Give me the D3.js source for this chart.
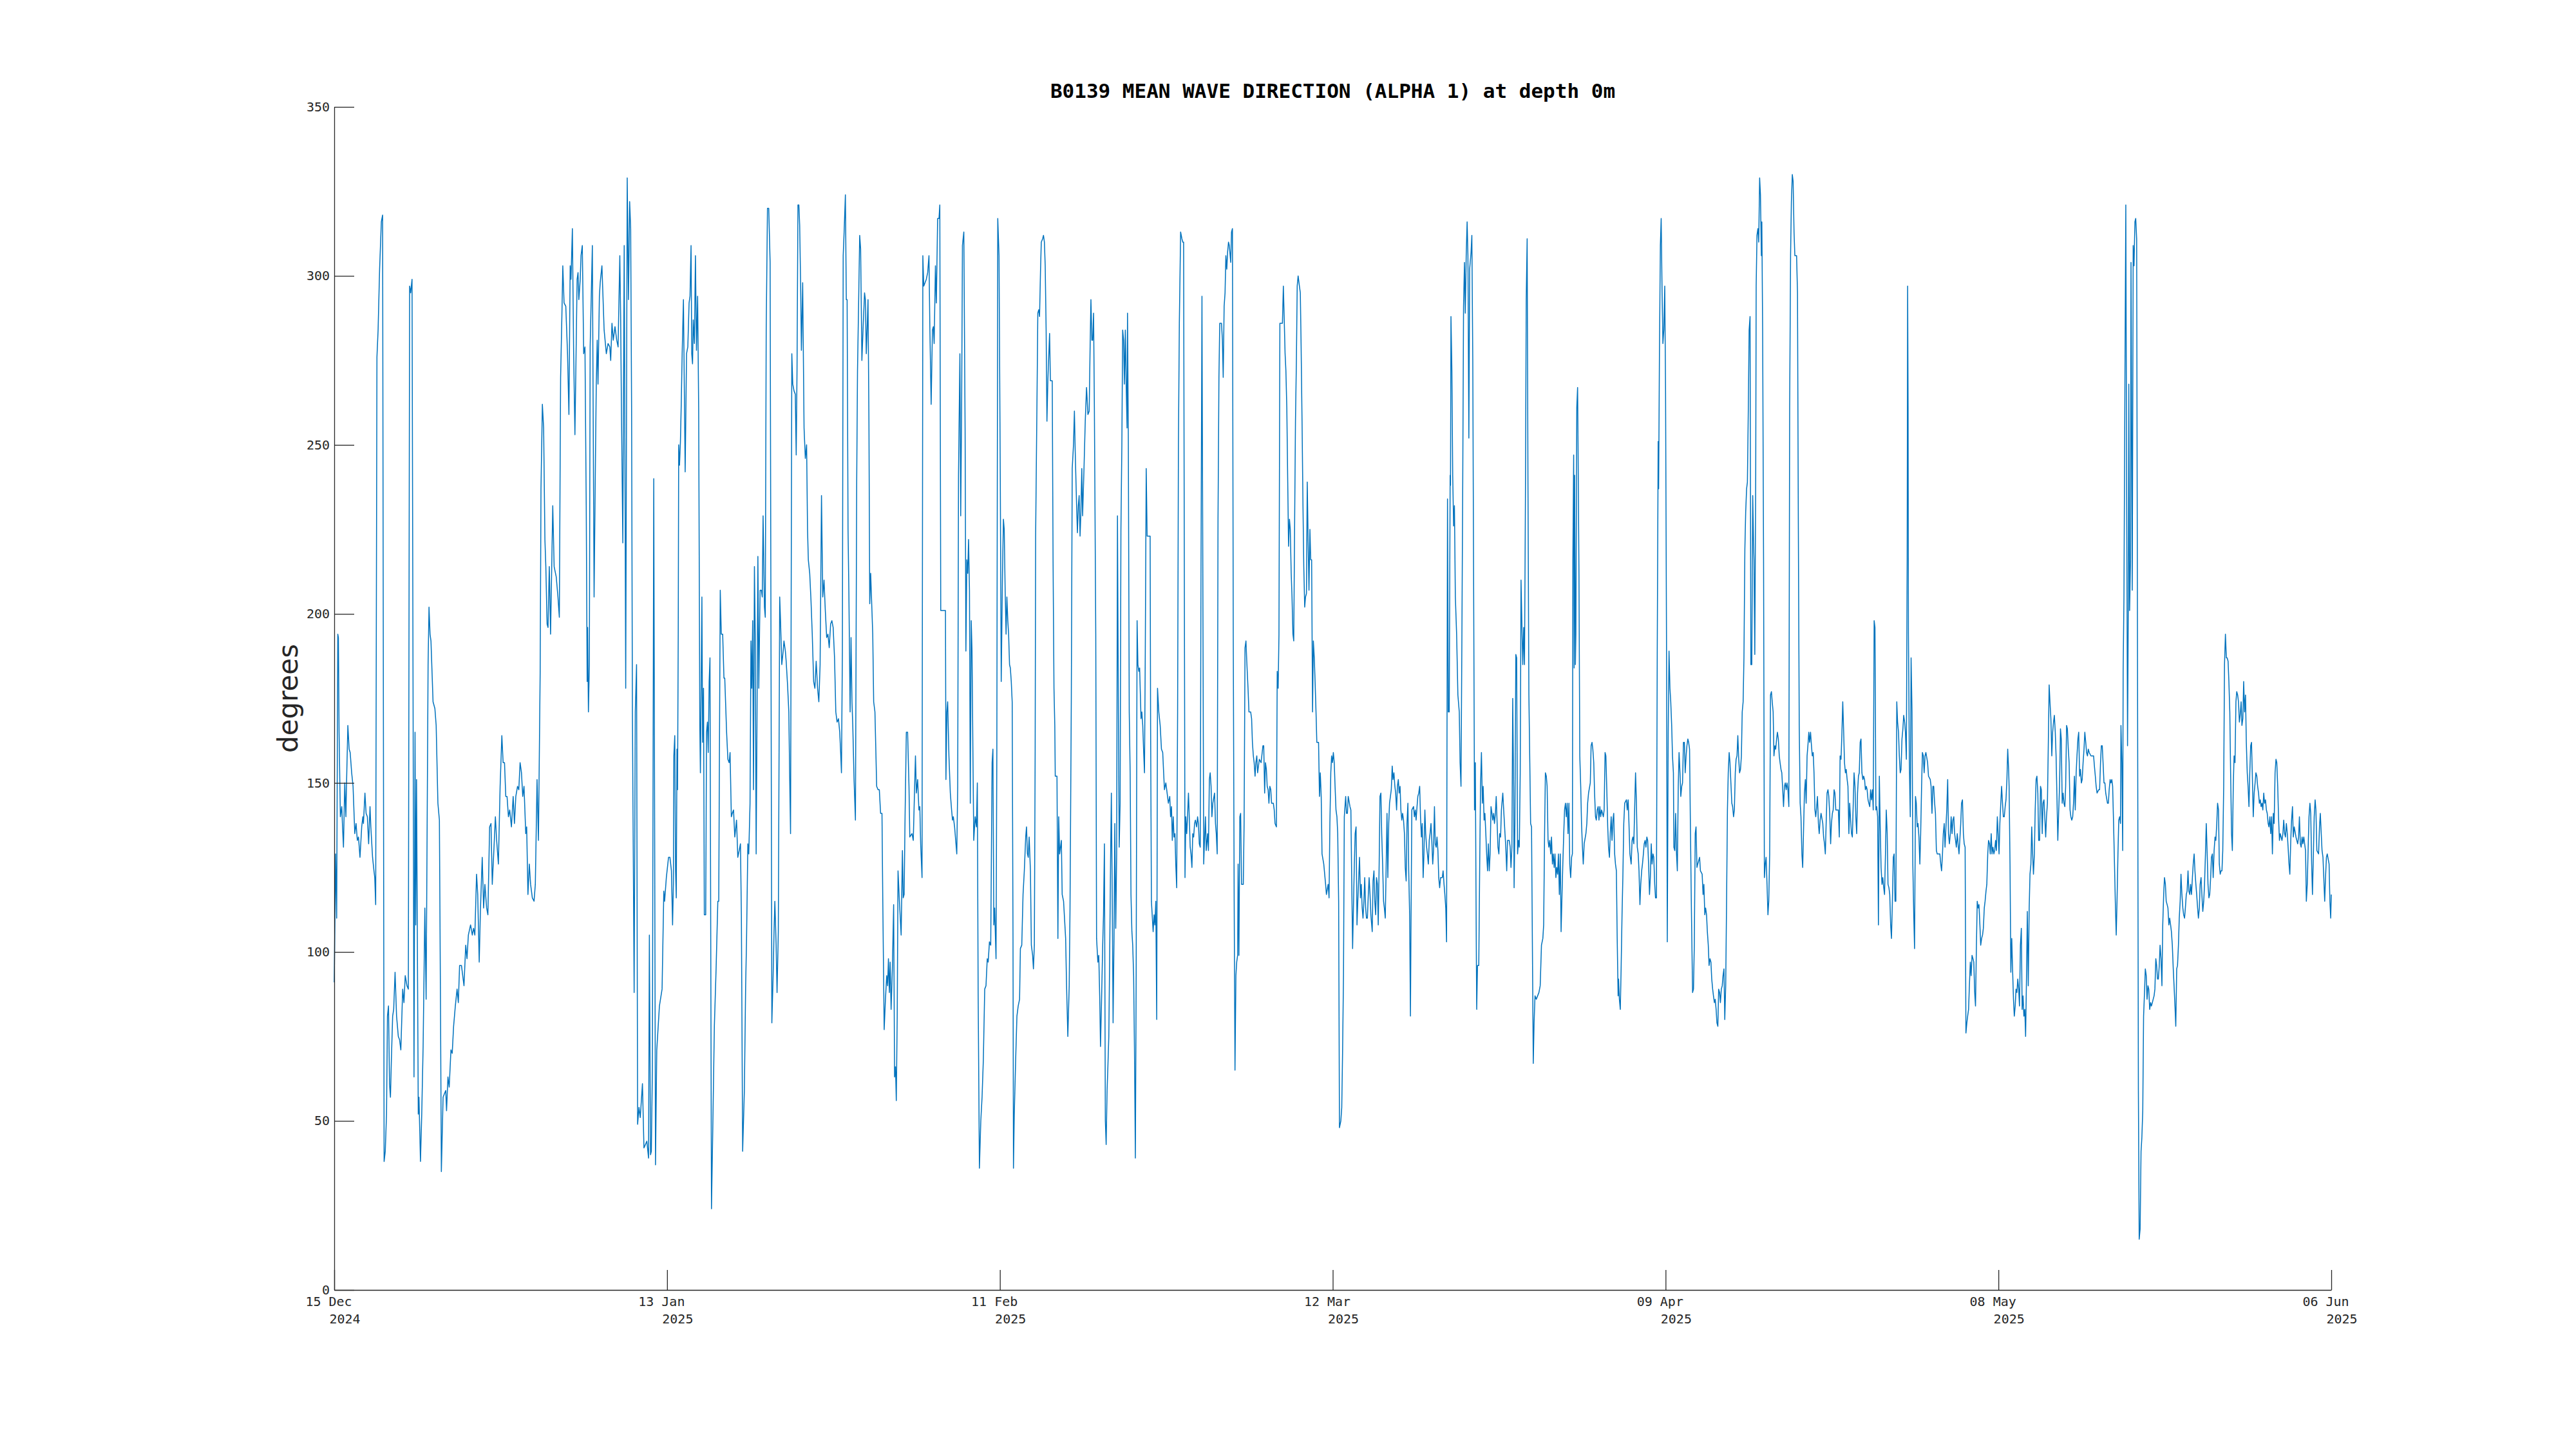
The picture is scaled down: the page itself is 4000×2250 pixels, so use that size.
<!DOCTYPE html>
<html>
<head>
<meta charset="utf-8">
<script src="https://cdn.jsdelivr.net/npm/d3@7"></script>
<style>
  html, body { margin: 0; padding: 0; background: #ffffff; }
  svg { display: block; }
</style>
</head>
<body>
<svg id="chart" width="4000" height="2250"></svg>
<script>
// ---------------- DATA ----------------
const chartTitle = "B0139 MEAN WAVE DIRECTION (ALPHA 1) at depth 0m";
const yLabel = "degrees";
const startDate = "2024-12-15T00:00:00Z";
const endDate = "2025-06-06T00:00:00Z";
const yTicks = [0, 50, 100, 150, 200, 250, 300, 350];
const xTickDates = ["2024-12-15T00:00:00Z","2025-01-12T20:00:00Z","2025-02-10T16:00:00Z","2025-03-11T12:00:00Z","2025-04-09T08:00:00Z","2025-05-08T04:00:00Z","2025-06-06T00:00:00Z"];
const xTickDays = ["15 Dec","13 Jan","11 Feb","12 Mar","09 Apr","08 May","06 Jun"];
const xTickYears = ["2024","2025","2025","2025","2025","2025","2025"];

// [days since 15 Dec 2024, direction in degrees]
const decJan = [[0.00,91],[0.12,129],[0.21,110],[0.31,194],[0.36,193],[0.42,165],[0.53,140],[0.65,143],[0.72,137],[0.80,131],[0.91,150],[1.01,140],[1.06,149],[1.18,167],[1.29,160],[1.38,159],[1.51,153],[1.63,149],[1.78,135],[1.89,138],[2.00,133],[2.10,134],[2.23,128],[2.38,137],[2.48,140],[2.53,138],[2.66,147],[2.76,141],[2.87,140],[2.98,132],[3.10,143],[3.17,137],[3.32,128],[3.44,124],[3.51,122],[3.59,114],[3.70,276],[3.80,284],[3.93,302],[4.08,316],[4.19,318],[4.32,38],[4.42,41],[4.53,52],[4.61,81],[4.70,84],[4.79,61],[4.87,57],[4.95,68],[5.06,81],[5.15,83],[5.27,94],[5.40,81],[5.55,75],[5.66,74],[5.77,71],[5.93,89],[6.04,85],[6.15,93],[6.30,90],[6.42,89],[6.53,297],[6.62,295],[6.74,299],[6.91,63],[7.00,165],[7.06,108],[7.13,151],[7.28,52],[7.34,57],[7.47,38],[7.58,52],[7.70,72],[7.85,113],[7.96,86],[8.13,185],[8.21,202],[8.30,194],[8.38,192],[8.56,174],[8.72,172],[8.83,167],[8.98,144],[9.11,139],[9.21,81],[9.28,35],[9.43,57],[9.54,58],[9.66,59],[9.73,53],[9.85,63],[9.96,60],[10.11,71],[10.22,70],[10.34,78],[10.49,84],[10.64,89],[10.75,85],[10.86,96],[11.02,96],[11.24,90],[11.39,102],[11.50,98],[11.62,105],[11.81,108],[11.96,105],[12.07,107],[12.18,105],[12.33,123],[12.43,117],[12.56,97],[12.67,113],[12.82,128],[12.94,113],[13.05,120],[13.20,113],[13.31,111],[13.46,137],[13.58,138],[13.69,120],[13.80,128],[13.96,140],[14.07,133],[14.22,126],[14.37,149],[14.52,164],[14.63,156],[14.75,156],[14.86,146],[14.97,146],[15.09,140],[15.20,142],[15.35,137],[15.50,146],[15.61,138],[15.73,146],[15.88,149],[15.99,148],[16.10,156],[16.22,153],[16.33,146],[16.44,149],[16.59,135],[16.67,137],[16.78,117],[16.90,126],[17.01,120],[17.16,116],[17.31,115],[17.42,120],[17.57,151],[17.69,133],[17.76,156],[17.84,183],[17.91,237],[18.03,262],[18.14,255],[18.25,222],[18.33,214],[18.44,197],[18.52,196],[18.63,214],[18.74,194],[18.93,232],[19.05,214],[19.23,211],[19.38,205],[19.50,199],[19.61,270],[19.72,288],[19.80,303],[19.91,292],[20.06,291],[20.21,277],[20.33,259],[20.44,303],[20.51,299],[20.63,314],[20.74,277],[20.85,253],[20.93,272],[21.04,299],[21.12,301],[21.19,293],[21.31,299],[21.38,306],[21.49,309],[21.61,277],[21.72,279],[21.83,232],[21.91,180],[21.95,196],[22.02,171],[22.10,185],[22.17,279],[22.36,309],[22.51,205],[22.63,246],[22.70,268],[22.78,281],[22.85,268],[22.97,294],[23.04,298],[23.19,303],[23.38,284],[23.57,277],[23.72,280],[23.87,279],[23.95,275],[24.06,286],[24.17,281],[24.32,285],[24.47,281],[24.59,279],[24.74,306],[24.81,288],[24.89,257],[25.00,221],[25.12,309],[25.25,178],[25.38,329],[25.49,293],[25.59,322],[25.68,314],[25.76,261],[25.83,171],[25.98,88],[26.08,171],[26.19,185],[26.28,49],[26.40,54],[26.51,51],[26.70,61],[26.83,42],[27.08,44],[27.23,39],[27.30,105],[27.40,40],[27.47,41],[27.56,65],[27.68,240],[27.83,37],[27.94,71],[28.17,84],[28.40,89],[28.55,118],[28.62,115],[28.77,122],[28.96,128]];

const janFeb = [[29.08,128],[29.21,124],[29.31,108],[29.38,120],[29.42,158],[29.50,164],[29.57,124],[29.63,116],[29.69,160],[29.74,148],[29.80,194],[29.84,250],[29.91,244],[29.99,251],[30.06,262],[30.14,277],[30.25,293],[30.40,242],[30.52,277],[30.63,279],[30.74,292],[30.82,294],[30.91,309],[30.97,277],[31.04,274],[31.10,287],[31.20,280],[31.29,306],[31.38,278],[31.48,294],[31.57,261],[31.67,167],[31.72,153],[31.80,184],[31.85,205],[31.91,162],[31.99,178],[32.06,111],[32.18,111],[32.25,165],[32.33,168],[32.40,159],[32.48,180],[32.55,187],[32.63,86],[32.68,24],[32.78,45],[32.93,78],[33.08,95],[33.23,115],[33.31,115],[33.38,167],[33.44,207],[33.53,194],[33.65,194],[33.76,181],[33.83,181],[33.99,165],[34.10,157],[34.21,156],[34.29,159],[34.40,140],[34.48,141],[34.59,142],[34.70,134],[34.85,139],[34.96,128],[35.08,130],[35.19,132],[35.27,111],[35.38,41],[35.53,59],[35.64,90],[35.72,104],[35.83,132],[35.91,129],[36.02,144],[36.10,192],[36.17,178],[36.25,198],[36.32,148],[36.40,214],[36.47,194],[36.55,129],[36.62,167],[36.70,217],[36.78,178],[36.89,207],[37.00,207],[37.08,205],[37.15,229],[37.27,202],[37.34,199],[37.42,284],[37.53,320],[37.64,320],[37.76,304],[37.91,79],[38.02,93],[38.10,106],[38.17,115],[38.28,102],[38.36,88],[38.47,106],[38.59,205],[38.66,198],[38.77,185],[38.89,189],[38.96,192],[39.08,189],[39.15,186],[39.27,179],[39.38,171],[39.45,153],[39.53,135],[39.64,277],[39.72,268],[39.83,266],[39.94,265],[40.02,247],[40.09,272],[40.17,321],[40.25,321],[40.32,315],[40.40,298],[40.47,278],[40.58,298],[40.70,255],[40.81,246],[40.92,250],[41.00,225],[41.07,216],[41.19,212],[41.30,204],[41.41,194],[41.53,180],[41.64,178],[41.75,186],[41.87,178],[41.98,174],[42.09,185],[42.21,235],[42.32,205],[42.43,210],[42.54,201],[42.66,193],[42.77,194],[42.88,190],[43.00,197],[43.11,198],[43.22,196],[43.34,187],[43.45,171],[43.56,168],[43.68,169],[43.79,165],[43.87,159],[43.94,153],[44.02,189],[44.09,306],[44.17,313],[44.28,324],[44.36,293],[44.43,293],[44.51,225],[44.58,207],[44.69,171],[44.77,193],[44.85,174],[44.92,167],[45.03,151],[45.15,139],[45.26,239],[45.33,272],[45.45,297],[45.52,312],[45.60,308],[45.71,275],[45.83,286],[45.94,295],[46.01,293],[46.09,277],[46.16,284],[46.24,293],[46.32,257],[46.39,203],[46.47,212],[46.54,205],[46.65,194],[46.73,174],[46.84,171],[46.99,149],[47.11,148],[47.22,148],[47.33,141],[47.45,141],[47.52,115],[47.64,77],[47.75,86],[47.86,93],[47.94,90],[48.01,98],[48.09,88],[48.16,97],[48.24,83],[48.35,95],[48.46,114],[48.54,63],[48.62,66],[48.69,56],[48.77,81],[48.84,124],[48.96,115],[49.11,105],[49.22,130],[49.29,116],[49.37,117],[49.45,140],[49.56,165],[49.67,165],[49.79,149],[49.86,134],[50.05,135],[50.16,133],[50.28,149],[50.35,158],[50.43,147],[50.54,151],[50.65,142],[50.73,143],[50.80,132],[50.92,122],[50.99,306],[51.07,297],[51.18,298],[51.29,299],[51.41,301],[51.52,306],[51.60,284],[51.71,262],[51.82,284],[51.90,285],[51.97,280],[52.08,303],[52.16,292],[52.27,317],[52.39,317],[52.46,321],[52.54,201],[52.95,201],[52.99,151],[53.07,171],[53.14,174],[53.25,158],[53.37,147],[53.48,142],[53.56,139],[53.63,140],[53.74,137],[53.86,132],[53.93,129],[54.01,149],[54.08,241],[54.20,277],[54.27,229],[54.35,261],[54.42,309],[54.54,313],[54.65,255],[54.72,189],[54.80,216],[54.88,212],[54.95,222],[55.03,207],[55.10,144],[55.18,198],[55.25,189],[55.33,158],[55.40,133],[55.52,140],[55.63,137],[55.71,150],[55.78,88],[55.89,36],[56.01,50],[56.12,57],[56.23,68],[56.35,89],[56.46,90],[56.57,98],[56.65,97],[56.76,103],[56.87,102],[56.99,156],[57.06,160],[57.14,108],[57.21,113],[57.33,98],[57.40,160],[57.48,317],[57.59,306],[57.70,239],[57.78,180],[57.89,212],[57.97,228],[58.04,225]];

const febMar = [[58.12,207],[58.20,194],[58.27,205],[58.35,198],[58.42,194],[58.50,185],[58.57,184],[58.65,180],[58.73,174],[58.80,104],[58.84,36],[58.91,52],[59.03,68],[59.14,81],[59.25,84],[59.37,86],[59.44,101],[59.56,102],[59.67,117],[59.78,124],[59.90,134],[59.97,137],[60.05,129],[60.12,128],[60.20,134],[60.31,124],[60.39,102],[60.50,99],[60.57,95],[60.65,102],[60.72,160],[60.76,223],[60.88,264],[60.95,289],[61.03,290],[61.10,288],[61.18,301],[61.25,310],[61.37,311],[61.44,312],[61.52,310],[61.59,303],[61.67,284],[61.74,257],[61.82,269],[61.97,283],[62.04,269],[62.20,269],[62.27,216],[62.35,178],[62.42,167],[62.46,152],[62.61,152],[62.69,104],[62.76,140],[62.84,129],[62.99,133],[63.06,117],[63.18,115],[63.36,104],[63.44,90],[63.55,75],[63.67,90],[63.74,113],[63.85,174],[63.93,243],[64.04,250],[64.12,260],[64.19,248],[64.31,232],[64.38,224],[64.46,232],[64.53,235],[64.61,223],[64.68,230],[64.76,243],[64.83,229],[64.95,243],[65.06,257],[65.17,267],[65.29,259],[65.40,260],[65.48,279],[65.55,293],[65.63,281],[65.70,281],[65.78,289],[65.85,261],[65.97,194],[66.04,104],[66.15,97],[66.23,99],[66.31,87],[66.38,72],[66.46,84],[66.57,102],[66.64,111],[66.72,132],[66.80,50],[66.87,43],[66.95,59],[67.02,66],[67.10,75],[67.17,97],[67.25,126],[67.32,147],[67.40,115],[67.47,79],[67.55,104],[67.62,138],[67.70,107],[67.78,129],[67.85,229],[67.93,171],[68.00,131],[68.08,144],[68.15,225],[68.23,250],[68.30,284],[68.38,281],[68.45,268],[68.53,284],[68.61,267],[68.68,255],[68.72,289],[68.79,252],[68.87,171],[68.95,153],[69.02,117],[69.10,106],[69.17,102],[69.25,93],[69.32,72],[69.40,39],[69.47,93],[69.55,198],[69.62,185],[69.70,183],[69.77,184],[69.89,169],[69.96,171],[70.04,167],[70.11,160],[70.19,153],[70.26,189],[70.34,243],[70.42,223],[70.68,223],[70.72,167],[70.79,115],[70.94,106],[71.02,111],[71.09,108],[71.17,115],[71.25,80],[71.32,178],[71.43,171],[71.55,167],[71.66,160],[71.77,159],[71.85,153],[71.92,148],[72.04,150],[72.15,147],[72.26,144],[72.38,146],[72.45,140],[72.53,143],[72.60,133],[72.68,140],[72.75,134],[72.83,135],[72.90,126],[72.98,119],[73.06,171],[73.13,250],[73.21,286],[73.32,313],[73.43,311],[73.51,310],[73.58,310],[73.70,122],[73.77,140],[73.85,135],[73.92,140],[74.00,147],[74.07,140],[74.15,131],[74.22,129],[74.30,125],[74.37,135],[74.45,134],[74.53,138],[74.60,139],[74.71,137],[74.79,140],[74.86,138],[74.94,132],[75.02,131],[75.09,216],[75.17,294],[75.24,216],[75.32,126],[75.39,133],[75.47,140],[75.54,130],[75.66,135],[75.73,130],[75.81,151],[75.88,153],[75.96,149],[76.03,140],[76.11,144],[76.26,147],[76.34,138],[76.41,135],[76.49,129],[76.56,228],[76.64,270],[76.71,286],[76.86,286],[76.94,281],[77.01,270],[77.09,291],[77.17,295],[77.24,306],[77.32,302],[77.39,307],[77.47,310],[77.54,309],[77.66,304],[77.73,313],[77.81,314],[77.88,194],[77.96,115],[78.03,65],[78.11,93],[78.18,97],[78.26,99],[78.30,126],[78.37,99],[78.45,140],[78.52,141],[78.60,120],[78.75,120],[78.82,138],[78.90,190],[78.98,192],[79.05,186],[79.16,178],[79.24,171],[79.39,171],[79.47,169],[79.54,162],[79.62,158],[79.69,156],[79.77,152],[79.84,156],[79.92,158],[79.99,153],[80.14,157],[80.29,156],[80.45,161],[80.52,161],[80.60,147],[80.67,156],[80.75,154],[80.82,149],[80.90,148],[80.97,144],[81.05,149],[81.13,148],[81.20,144],[81.35,144],[81.43,142],[81.50,138],[81.62,137],[81.69,183],[81.77,178],[81.84,194],[81.92,286],[82.07,286],[82.14,286],[82.22,297],[82.29,288],[82.37,277],[82.44,272],[82.52,261],[82.60,239],[82.67,220],[82.75,228],[82.82,225],[82.90,212],[82.97,205],[83.05,194],[83.12,192],[83.20,228],[83.27,257],[83.35,275],[83.42,297],[83.50,300],[83.61,297],[83.69,295],[83.76,279],[83.84,257],[83.92,232],[83.99,214],[84.07,202],[84.14,205],[84.22,206],[84.29,239],[84.37,221],[84.44,207],[84.52,225],[84.59,216],[84.67,216],[84.75,171],[84.82,192],[84.90,187],[84.97,180],[85.05,171],[85.12,162],[85.27,162],[85.35,146],[85.42,153],[85.50,146],[85.57,129],[85.72,126],[85.88,120],[85.95,117],[86.10,120],[86.18,116],[86.25,138],[86.33,153],[86.40,158],[86.48,156],[86.55,159],[86.63,156],[86.70,149],[86.78,142],[86.86,140],[86.93,135],[87.01,115],[87.08,48]];

const marApr = [[87.20,50],[87.28,54],[87.35,70],[87.43,93],[87.50,140],[87.62,146],[87.69,141],[87.77,141],[87.84,146],[87.99,143],[88.07,142],[88.14,122],[88.22,101],[88.29,113],[88.37,126],[88.44,135],[88.52,137],[88.60,108],[88.67,115],[88.75,122],[88.82,128],[88.90,116],[88.97,120],[89.05,113],[89.12,110],[89.20,115],[89.27,122],[89.35,113],[89.42,110],[89.50,110],[89.58,117],[89.65,122],[89.73,117],[89.80,111],[89.92,106],[89.99,121],[90.07,124],[90.14,115],[90.22,111],[90.29,122],[90.37,120],[90.44,108],[90.52,126],[90.59,146],[90.67,147],[90.74,135],[90.82,126],[90.90,115],[90.97,113],[91.05,110],[91.12,124],[91.20,141],[91.27,122],[91.35,138],[91.42,144],[91.57,148],[91.65,155],[91.72,151],[91.80,153],[91.88,149],[91.95,147],[92.03,142],[92.10,149],[92.18,151],[92.25,147],[92.33,149],[92.40,142],[92.48,139],[92.55,141],[92.63,139],[92.71,135],[92.78,125],[92.86,121],[92.93,138],[93.01,144],[93.08,124],[93.16,111],[93.23,81],[93.27,104],[93.35,142],[93.50,143],[93.57,140],[93.65,142],[93.72,139],[93.80,143],[93.87,146],[93.95,147],[94.03,149],[94.10,140],[94.18,134],[94.25,138],[94.33,122],[94.40,129],[94.48,142],[94.55,135],[94.63,131],[94.70,129],[94.78,126],[94.86,133],[94.93,135],[95.01,138],[95.08,133],[95.16,126],[95.23,130],[95.31,143],[95.38,132],[95.46,131],[95.53,134],[95.61,130],[95.68,122],[95.76,119],[95.84,122],[95.99,122],[96.06,124],[96.14,120],[96.21,117],[96.29,113],[96.36,103],[96.44,234],[96.51,171],[96.59,171],[96.67,241],[96.70,238],[96.74,288],[96.82,272],[96.89,241],[96.97,226],[97.04,232],[97.12,205],[97.23,194],[97.34,176],[97.46,171],[97.53,156],[97.61,149],[97.68,189],[97.76,239],[97.83,291],[97.91,304],[97.98,289],[98.06,306],[98.14,316],[98.21,306],[98.29,252],[98.36,302],[98.48,307],[98.55,312],[98.63,275],[98.70,212],[98.78,142],[98.85,156],[98.93,104],[98.97,83],[99.04,96],[99.15,96],[99.23,126],[99.30,149],[99.38,159],[99.46,144],[99.53,149],[99.61,139],[99.68,141],[99.76,135],[99.83,129],[99.91,124],[99.98,132],[100.06,124],[100.13,129],[100.21,143],[100.29,141],[100.36,139],[100.44,141],[100.51,138],[100.59,141],[100.66,146],[100.74,138],[100.81,131],[100.89,129],[100.96,135],[101.04,134],[101.11,142],[101.23,147],[101.34,140],[101.42,135],[101.49,131],[101.57,124],[101.64,133],[101.79,133],[101.87,131],[101.94,125],[102.02,131],[102.09,175],[102.17,149],[102.21,119],[102.28,138],[102.36,188],[102.43,187],[102.51,129],[102.59,133],[102.66,131],[102.74,153],[102.81,210],[102.89,196],[102.96,185],[103.04,196],[103.11,185],[103.19,234],[103.26,293],[103.34,311],[103.41,239],[103.49,176],[103.57,156],[103.64,138],[103.72,137],[103.79,104],[103.87,67],[103.94,79],[104.02,87],[104.13,86],[104.36,88],[104.47,90],[104.58,102],[104.70,104],[104.77,108],[104.85,135],[104.92,153],[105.00,152],[105.07,149],[105.15,133],[105.22,131],[105.30,133],[105.38,129],[105.45,134],[105.53,126],[105.60,129],[105.68,125],[105.75,129],[105.83,122],[105.90,125],[105.98,123],[106.05,129],[106.13,117],[106.21,129],[106.28,106],[106.36,117],[106.43,126],[106.51,135],[106.58,142],[106.66,144],[106.73,140],[106.81,144],[106.88,135],[106.96,144],[107.03,126],[107.11,122],[107.19,128],[107.26,129],[107.30,216],[107.37,247],[107.41,184],[107.45,241],[107.52,185],[107.56,194],[107.64,261],[107.71,267],[107.75,250],[107.83,211],[107.90,158],[107.98,149],[108.05,138],[108.13,131],[108.20,126],[108.28,132],[108.43,135],[108.51,138],[108.58,144],[108.66,147],[108.81,150],[108.88,161],[108.96,162],[109.03,160],[109.11,156],[109.18,147],[109.26,140],[109.33,139],[109.41,142],[109.49,143],[109.56,139],[109.64,143],[109.71,140],[109.79,142],[109.94,140],[110.01,142],[110.09,159],[110.16,158],[110.24,148],[110.32,137],[110.39,131],[110.47,128],[110.54,135],[110.62,140],[110.69,133],[110.77,139],[110.84,141],[110.92,129],[110.99,126],[111.07,124],[111.14,104],[111.22,87],[111.26,92],[111.33,86],[111.41,83],[111.48,95],[111.56,111],[111.63,122],[111.71,138],[111.79,144],[111.94,145],[112.01,142],[112.09,145],[112.16,138],[112.24,129],[112.35,126],[112.43,133],[112.50,134],[112.58,132],[112.65,142],[112.73,153],[112.80,145],[112.88,131],[112.96,129],[113.03,124],[113.11,114],[113.18,120],[113.26,124],[113.33,126],[113.41,129],[113.48,132],[113.56,133],[113.63,131],[113.71,134],[113.78,133],[113.86,126],[113.94,117],[114.01,122],[114.09,132],[114.16,126],[114.24,129],[114.31,128],[114.39,120],[114.46,116],[114.54,116],[114.61,189],[114.69,251],[114.73,237],[114.80,277],[114.88,309],[114.95,317],[115.03,295],[115.10,280],[115.18,284],[115.26,297],[115.33,266],[115.41,194],[115.48,103],[115.56,165],[115.63,189],[115.71,178],[115.78,174],[115.86,167],[115.93,158],[116.01,153]];

const aprMay = [[116.05,131],[116.13,130],[116.20,141],[116.28,129],[116.35,124],[116.43,149],[116.50,159],[116.58,153],[116.65,146],[116.73,149],[116.80,150],[116.88,162],[116.96,162],[117.03,153],[117.11,158],[117.18,161],[117.26,163],[117.33,162],[117.41,160],[117.48,138],[117.56,115],[117.67,88],[117.75,89],[117.82,102],[117.90,135],[117.97,137],[118.05,125],[118.12,126],[118.28,128],[118.35,124],[118.50,123],[118.58,117],[118.65,120],[118.73,111],[118.80,113],[118.88,111],[118.95,106],[119.03,102],[119.10,96],[119.18,98],[119.26,97],[119.33,92],[119.41,89],[119.48,87],[119.56,85],[119.63,86],[119.71,83],[119.78,79],[119.86,78],[119.93,89],[120.01,88],[120.08,85],[120.16,89],[120.24,90],[120.31,93],[120.39,95],[120.46,80],[120.54,90],[120.61,113],[120.69,142],[120.76,153],[120.84,159],[120.91,156],[120.99,150],[121.07,144],[121.14,143],[121.22,140],[121.29,142],[121.37,153],[121.44,157],[121.52,158],[121.59,164],[121.67,157],[121.74,153],[121.82,154],[121.90,158],[121.97,171],[122.05,174],[122.12,187],[122.20,219],[122.27,230],[122.35,237],[122.42,239],[122.50,261],[122.57,284],[122.65,288],[122.72,185],[122.80,185],[122.88,235],[122.95,221],[122.99,216],[123.06,188],[123.14,241],[123.18,297],[123.25,312],[123.33,314],[123.40,310],[123.48,329],[123.55,324],[123.63,306],[123.67,316],[123.74,284],[123.82,216],[123.89,122],[123.97,126],[124.04,128],[124.12,120],[124.20,111],[124.27,115],[124.35,129],[124.42,176],[124.50,177],[124.57,174],[124.65,171],[124.72,158],[124.80,161],[124.87,160],[124.95,163],[125.02,165],[125.10,163],[125.18,158],[125.25,156],[125.33,154],[125.40,153],[125.48,148],[125.55,143],[125.63,149],[125.70,150],[125.78,148],[125.85,150],[125.93,148],[126.01,143],[126.08,261],[126.16,306],[126.23,322],[126.31,330],[126.38,328],[126.46,313],[126.53,306],[126.68,306],[126.76,295],[126.83,228],[126.91,167],[126.99,144],[127.06,140],[127.14,129],[127.21,125],[127.29,137],[127.36,147],[127.44,151],[127.51,144],[127.59,158],[127.66,161],[127.74,165],[127.81,162],[127.89,165],[127.97,161],[128.04,158],[128.12,159],[128.19,153],[128.27,142],[128.34,140],[128.42,143],[128.49,146],[128.57,138],[128.64,135],[128.72,139],[128.80,141],[128.95,138],[129.02,134],[129.10,132],[129.17,129],[129.25,139],[129.32,147],[129.40,148],[129.47,146],[129.55,141],[129.63,132],[129.70,138],[129.78,141],[129.85,142],[129.93,148],[130.00,147],[130.08,142],[130.30,142],[130.38,134],[130.45,158],[130.53,157],[130.61,165],[130.68,174],[130.76,165],[130.83,156],[130.91,153],[130.98,154],[131.06,151],[131.13,149],[131.21,135],[131.28,144],[131.36,139],[131.44,135],[131.51,134],[131.59,144],[131.66,153],[131.74,149],[131.81,140],[131.89,135],[131.96,147],[132.04,152],[132.11,153],[132.19,162],[132.26,163],[132.34,153],[132.42,151],[132.49,152],[132.57,151],[132.64,148],[132.72,149],[132.79,148],[132.87,145],[132.94,144],[133.02,143],[133.09,148],[133.17,145],[133.25,148],[133.32,142],[133.40,198],[133.47,196],[133.55,142],[133.62,143],[133.70,140],[133.77,108],[133.85,152],[133.92,138],[134.00,125],[134.08,120],[134.15,122],[134.23,119],[134.30,117],[134.38,129],[134.45,142],[134.53,135],[134.60,120],[134.68,119],[134.75,117],[134.83,108],[134.90,104],[134.98,115],[135.06,128],[135.13,129],[135.21,115],[135.28,115],[135.36,174],[135.43,168],[135.51,165],[135.58,158],[135.66,153],[135.73,154],[135.81,163],[135.89,166],[135.96,170],[136.04,168],[136.11,165],[136.19,157],[136.26,216],[136.30,297],[136.34,261],[136.37,194],[136.45,156],[136.53,140],[136.60,187],[136.68,171],[136.75,126],[136.83,111],[136.90,101],[136.98,146],[137.05,144],[137.13,137],[137.20,138],[137.28,134],[137.36,126],[137.43,135],[137.51,149],[137.58,159],[137.66,158],[137.73,153],[137.81,158],[137.88,159],[138.03,156],[138.11,152],[138.26,151],[138.33,149],[138.41,141],[138.49,149],[138.56,149],[138.64,144],[138.71,141],[138.79,130],[138.86,129],[139.09,129],[139.17,126],[139.24,124],[139.32,129],[139.39,135],[139.47,138],[139.54,131],[139.62,137],[139.69,142],[139.77,151],[139.84,135],[139.92,132],[140.00,135],[140.07,140],[140.15,135],[140.22,139],[140.30,140],[140.37,135],[140.45,133],[140.52,131],[140.60,135],[140.67,132],[140.75,129],[140.82,133],[140.90,138],[140.97,144],[141.05,145],[141.13,135],[141.20,132],[141.28,131],[141.35,76],[141.43,79],[141.50,81],[141.58,83],[141.65,90],[141.73,97],[141.80,93],[141.88,99],[141.96,98],[142.03,97],[142.11,88],[142.18,84],[142.26,102],[142.33,115],[142.41,113],[142.48,114],[142.56,108],[142.63,102],[142.71,104],[142.79,105],[142.86,107],[142.94,113],[143.01,115],[143.09,118],[143.16,120],[143.24,129],[143.31,133],[143.39,132],[143.46,129],[143.54,135],[143.61,129],[143.69,131],[143.77,129],[143.84,130],[143.92,133],[143.99,130],[144.07,140],[144.14,135],[144.22,129],[144.29,138],[144.37,144],[144.44,149],[144.52,144],[144.59,140],[144.67,140],[144.75,143],[144.82,145],[144.90,151],[144.97,160],[145.05,154]];

const mayJun = [[145.09,149],[145.17,126],[145.24,94],[145.32,104],[145.39,95],[145.47,86],[145.54,81],[145.62,84],[145.69,89],[145.77,88],[145.84,92],[145.92,89],[145.99,84],[146.07,102],[146.15,107],[146.22,83],[146.30,87],[146.37,81],[146.45,83],[146.52,75],[146.60,93],[146.67,112],[146.75,90],[146.83,113],[146.90,123],[146.98,126],[147.05,137],[147.13,129],[147.20,123],[147.28,129],[147.35,142],[147.43,151],[147.50,152],[147.58,147],[147.65,133],[147.73,133],[147.81,149],[147.88,148],[147.96,135],[148.03,144],[148.11,145],[148.18,140],[148.26,134],[148.33,140],[148.41,144],[148.48,160],[148.56,179],[148.63,174],[148.71,169],[148.79,158],[148.86,165],[148.94,168],[149.01,170],[149.09,165],[149.16,158],[149.24,145],[149.31,133],[149.39,142],[149.46,149],[149.54,166],[149.61,163],[149.69,144],[149.77,147],[149.84,144],[149.92,143],[149.99,149],[150.07,167],[150.14,166],[150.22,160],[150.29,156],[150.37,142],[150.44,140],[150.52,139],[150.60,140],[150.67,144],[150.75,152],[150.82,142],[150.90,153],[150.97,158],[151.05,163],[151.12,165],[151.20,152],[151.27,154],[151.35,150],[151.42,151],[151.50,156],[151.58,160],[151.65,165],[151.73,162],[151.80,159],[151.88,158],[151.95,160],[152.03,159],[152.18,158],[152.33,158],[152.41,158],[152.48,155],[152.56,152],[152.63,149],[152.71,147],[152.86,148],[152.93,148],[153.01,156],[153.08,161],[153.16,161],[153.23,156],[153.31,150],[153.39,150],[153.46,147],[153.61,144],[153.69,144],[153.76,148],[153.84,151],[153.91,150],[153.99,151],[154.06,149],[154.14,138],[154.22,126],[154.29,115],[154.37,105],[154.44,115],[154.52,129],[154.59,139],[154.67,140],[154.74,138],[154.78,167],[154.86,156],[154.93,130],[154.97,183],[155.04,205],[155.12,266],[155.20,321],[155.27,239],[155.35,161],[155.42,205],[155.46,268],[155.53,201],[155.61,216],[155.65,304],[155.72,243],[155.76,207],[155.84,309],[155.91,303],[155.99,316],[156.06,317],[156.14,311],[156.21,194],[156.29,59],[156.36,15],[156.44,18],[156.52,41],[156.59,45],[156.67,53],[156.74,81],[156.82,88],[156.89,95],[156.97,93],[157.04,86],[157.12,90],[157.19,89],[157.27,83],[157.35,85],[157.42,84],[157.50,85],[157.57,86],[157.65,87],[157.72,89],[157.80,98],[157.87,96],[157.95,92],[158.02,92],[158.10,96],[158.17,102],[158.25,98],[158.33,90],[158.40,108],[158.48,117],[158.55,122],[158.63,120],[158.70,115],[158.78,114],[158.85,113],[158.93,108],[159.00,110],[159.08,108],[159.15,106],[159.23,102],[159.31,95],[159.38,90],[159.46,84],[159.53,78],[159.61,95],[159.68,96],[159.76,102],[159.83,110],[159.91,115],[159.98,123],[160.06,117],[160.14,113],[160.21,111],[160.29,110],[160.36,113],[160.44,117],[160.51,118],[160.59,124],[160.66,118],[160.74,117],[160.81,120],[160.89,117],[160.97,122],[161.04,126],[161.12,129],[161.19,124],[161.27,120],[161.34,117],[161.42,113],[161.49,110],[161.57,113],[161.64,120],[161.72,122],[161.79,117],[161.87,112],[161.95,115],[162.02,120],[162.10,129],[162.17,138],[162.25,129],[162.32,120],[162.40,116],[162.47,117],[162.55,122],[162.62,128],[162.70,129],[162.77,122],[162.85,130],[162.93,134],[163.00,133],[163.08,138],[163.15,144],[163.23,142],[163.30,126],[163.38,123],[163.45,124],[163.53,124],[163.60,130],[163.68,149],[163.75,185],[163.83,194],[163.91,187],[163.98,187],[164.06,186],[164.13,180],[164.21,171],[164.28,153],[164.36,135],[164.43,130],[164.51,149],[164.58,158],[164.66,156],[164.74,174],[164.81,177],[164.89,176],[164.96,174],[165.04,168],[165.11,170],[165.19,174],[165.26,167],[165.34,169],[165.41,180],[165.49,171],[165.57,176],[165.64,162],[165.72,153],[165.79,149],[165.87,143],[165.94,153],[166.02,161],[166.09,162],[166.17,151],[166.24,140],[166.32,147],[166.40,150],[166.47,153],[166.55,152],[166.62,149],[166.70,147],[166.77,144],[166.85,145],[166.92,143],[167.00,144],[167.07,142],[167.15,147],[167.22,144],[167.30,145],[167.38,142],[167.45,141],[167.53,138],[167.60,137],[167.68,140],[167.75,135],[167.83,140],[167.90,129],[167.98,141],[168.05,138],[168.13,153],[168.21,157],[168.28,156],[168.36,149],[168.43,140],[168.51,133],[168.58,135],[168.73,133],[168.81,135],[168.88,139],[168.96,135],[169.03,134],[169.11,138],[169.19,135],[169.26,131],[169.34,126],[169.41,123],[169.49,133],[169.56,139],[169.64,143],[169.71,134],[169.79,137],[169.94,134],[170.09,132],[170.17,134],[170.24,140],[170.32,132],[170.39,131],[170.47,134],[170.54,132],[170.62,134],[170.69,132],[170.77,130],[170.84,115],[170.92,120],[171.00,131],[171.07,140],[171.15,144],[171.22,141],[171.30,126],[171.37,117],[171.45,129],[171.52,140],[171.60,145],[171.67,142],[171.75,130],[171.90,129],[171.98,137],[172.05,141],[172.13,135],[172.20,130],[172.28,128],[172.35,122],[172.43,115],[172.50,122],[172.58,128],[172.65,129],[172.81,126],[172.88,115],[172.95,110],[173.00,117]];

// ---------------- CHART ----------------
const W = 4000, H = 2250;
const plot = { left: 519, right: 3620, top: 166, bottom: 2003 };
const ink = "#262626";
const lineColor = "#0072BD";
const DAY = 86400000;

const svg = d3.select("#chart");
svg.append("rect").attr("width", W).attr("height", H).attr("fill", "#ffffff");

const t0 = new Date(startDate).getTime();
const x = d3.scaleUtc().domain([new Date(startDate), new Date(endDate)]).range([plot.left, plot.right]);
const y = d3.scaleLinear().domain([0, 350]).range([plot.bottom, plot.top]);

const readings = [...decJan, ...janFeb, ...febMar, ...marApr, ...aprMay, ...mayJun];

const line = d3.line()
  .x(p => x(new Date(t0 + p[0] * DAY)))
  .y(p => y(p[1]));

svg.append("path")
  .datum(readings)
  .attr("fill", "none")
  .attr("stroke", lineColor)
  .attr("stroke-width", 1.5)
  .attr("stroke-linejoin", "round")
  .attr("d", line);

// Y axis
const yAxis = d3.axisLeft(y).tickValues(yTicks).tickSizeInner(-31).tickSizeOuter(0).tickPadding(7);
const gy = svg.append("g").attr("transform", `translate(${plot.left},0)`).call(yAxis);
gy.select(".domain").attr("stroke", ink).attr("stroke-width", 1.3);
gy.selectAll(".tick line").attr("stroke", ink).attr("stroke-width", 1.3);
gy.selectAll(".tick text")
  .attr("fill", ink)
  .style("font-family", "'DejaVu Sans Mono', monospace")
  .style("font-size", "20px");

// X axis
const tickDates = xTickDates.map(s => new Date(s));
const xAxis = d3.axisBottom(x).tickValues(tickDates).tickSizeInner(-31).tickSizeOuter(0).tickFormat("");
const gx = svg.append("g").attr("transform", `translate(0,${plot.bottom})`).call(xAxis);
gx.select(".domain").attr("stroke", ink).attr("stroke-width", 1.3);
gx.selectAll(".tick line").attr("stroke", ink).attr("stroke-width", 1.3);
gx.selectAll(".tick text").remove();
gx.selectAll(".tick").each(function(d, i) {
  const g = d3.select(this);
  g.append("text")
    .attr("x", -9).attr("y", 25)
    .attr("text-anchor", "middle")
    .attr("fill", ink)
    .style("font-family", "'DejaVu Sans Mono', monospace")
    .style("font-size", "20px")
    .text(xTickDays[i]);
  g.append("text")
    .attr("x", 16).attr("y", 52)
    .attr("text-anchor", "middle")
    .attr("fill", ink)
    .style("font-family", "'DejaVu Sans Mono', monospace")
    .style("font-size", "20px")
    .text(xTickYears[i]);
});

// Title
svg.append("text")
  .attr("x", (plot.left + plot.right) / 2)
  .attr("y", 152)
  .attr("text-anchor", "middle")
  .attr("fill", "#000000")
  .style("font-family", "'DejaVu Sans Mono', monospace")
  .style("font-weight", "bold")
  .style("font-size", "31px")
  .text(chartTitle);

// Y label
svg.append("text")
  .attr("transform", `translate(462,${(plot.top + plot.bottom) / 2}) rotate(-90)`)
  .attr("text-anchor", "middle")
  .attr("fill", ink)
  .style("font-family", "'DejaVu Sans', sans-serif")
  .style("font-size", "42px")
  .text(yLabel);
</script>
</body>
</html>
